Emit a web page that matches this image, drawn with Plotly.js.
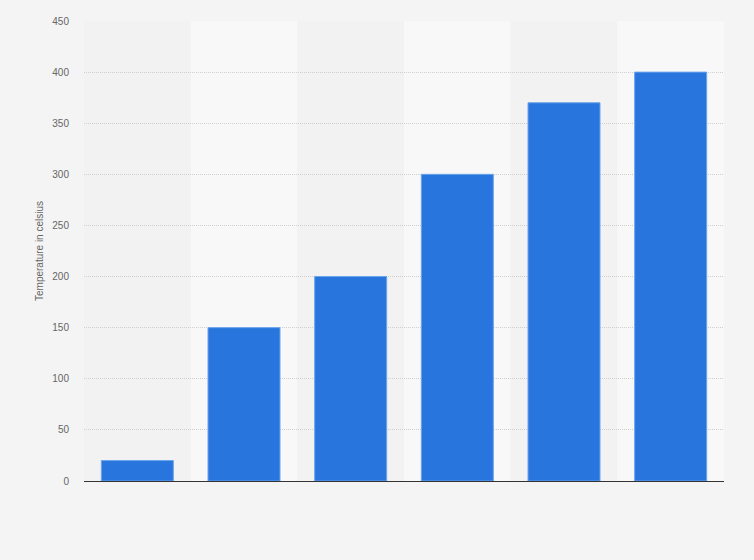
<!DOCTYPE html>
<html>
<head>
<meta charset="utf-8">
<script src="https://cdn.plot.ly/plotly-3.0.1.min.js"></script>
<style>
html,body{margin:0;padding:0;background:#f4f4f4;}
#chart{width:754px;height:560px;}
</style>
</head>
<body>
<div id="chart"></div>
<script>
var categories = ["1", "2", "3", "4", "5", "6"];
var temperatures = [20, 150, 200, 300, 370, 400];
var yTicks = [0, 50, 100, 150, 200, 250, 300, 350, 400, 450];

var shapes = categories.map(function (c, i) {
  return {
    type: 'rect', xref: 'x', yref: 'paper', layer: 'below',
    x0: i - 0.5, x1: i + 0.5, y0: 0, y1: 1,
    fillcolor: (i % 2 === 1) ? '#f8f8f8' : '#f2f2f2',
    line: {width: 0}
  };
});

var trace = {
  type: 'bar',
  x: categories.map(function (c, i) { return i; }),
  y: temperatures,
  width: 0.675,
  marker: {color: '#2876dd', line: {color: '#6aa3ec', width: 1}},
  hoverinfo: 'y'
};

var layout = {
  width: 754, height: 560,
  margin: {l: 84, r: 30, t: 21, b: 79},
  paper_bgcolor: '#f4f4f4',
  plot_bgcolor: '#f2f2f2',
  showlegend: false,
  font: {family: 'Arial, "Liberation Sans", sans-serif', color: '#666', size: 10},
  xaxis: {
    range: [-0.5, categories.length - 0.5],
    showticklabels: false, showgrid: false, zeroline: false,
    showline: false, ticks: ''
  },
  yaxis: {
    range: [0, 450],
    tickvals: yTicks,
    ticktext: yTicks.map(String),
    showgrid: true, gridcolor: '#cfcfcf', griddash: '1px,1px', gridwidth: 1,
    zeroline: true, zerolinecolor: '#333', zerolinewidth: 1,
    showline: false, ticks: '',
    ticklabelstandoff: 14,
    tickfont: {size: 10, color: '#666'},
    title: {text: 'Temperature in celsius', font: {size: 10, color: '#666'}, standoff: 6}
  },
  shapes: shapes
};

Plotly.newPlot('chart', [trace], layout, {displayModeBar: false, staticPlot: true});
</script>
</body>
</html>
